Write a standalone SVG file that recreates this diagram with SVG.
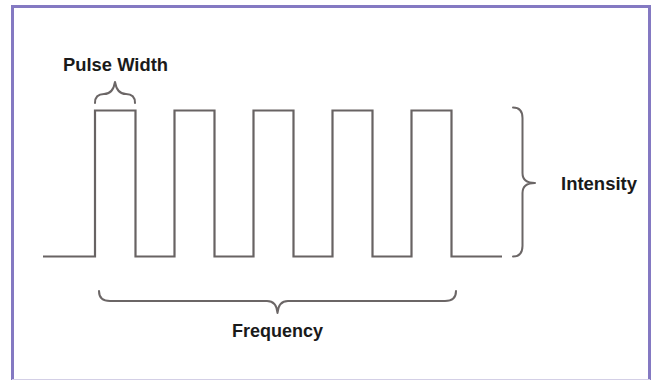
<svg xmlns="http://www.w3.org/2000/svg" width="654" height="380" viewBox="0 0 654 380">
<style>
.wave{fill:none;stroke:#686363;stroke-width:2.2;stroke-linejoin:miter}
.brace{fill:none;stroke:#6b6666;stroke-width:2;stroke-linecap:round;stroke-linejoin:round}
.lbl{font-family:"Liberation Sans",Arial,sans-serif;font-weight:bold;font-size:18px;fill:#1a1a1a}
</style>
<rect width="654" height="380" fill="#ffffff"/>
<path d="M12.5,380 L12.5,6.5 L649.5,6.5 L649.5,380" fill="none" stroke="#8479c2" stroke-width="3"/>
<line x1="12" y1="379.5" x2="650" y2="379.5" stroke="#d3cfe6" stroke-width="1.2"/>
<g id="waveform">
<path class="wave" d="M43,256.5 H95 V110.5 H135.5 V256.5 H174.5 V110.5 H214.5 V256.5 H253.5 V110.5 H293.5 V256.5 H332.5 V110.5 H372.5 V256.5 H411.5 V110.5 H451.5 V256.5 H502"/>
</g>
<g id="connectors">
<path id="brace-pulse" class="brace" d="M95,103 Q95,94 104,94 Q113,94 115,82 Q117,94 126,94 Q135,94 135,103"/>
<path id="brace-intensity" class="brace" d="M513,107.5 Q522.5,107.5 522.5,118 L522.5,173 Q522.5,183 535,183 Q522.5,183 522.5,193 L522.5,246 Q522.5,256.5 513,256.5"/>
<path id="brace-frequency" class="brace" d="M99,291 Q99,301 110,301 L267,301 Q276.5,301 277.5,313 Q278.5,301 288,301 L445,301 Q456,301 456,291"/>
</g>
<g id="label-pulse-width"><text class="lbl" x="115.5" y="71" text-anchor="middle" textLength="105" lengthAdjust="spacingAndGlyphs">Pulse Width</text></g>
<g id="label-intensity"><text class="lbl" x="561" y="190" textLength="76" lengthAdjust="spacingAndGlyphs">Intensity</text></g>
<g id="label-frequency"><text class="lbl" x="277.5" y="337" text-anchor="middle" textLength="91" lengthAdjust="spacingAndGlyphs">Frequency</text></g>
</svg>
